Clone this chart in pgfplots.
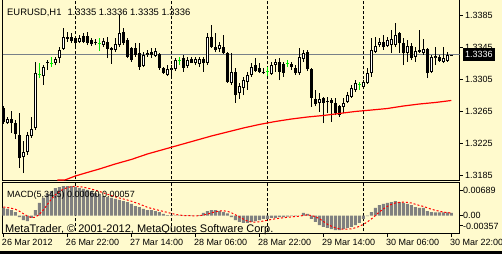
\documentclass[border=0pt]{standalone}
\usepackage{pgfplots}
\usepackage{pgfplotstable}
\pgfplotsset{compat=1.18}
\usepackage{fontspec}
\setmainfont{Liberation Sans}
\definecolor{bg}{RGB}{255,250,205}
\definecolor{lime}{RGB}{0,235,0}
\definecolor{histgray}{RGB}{128,128,128}
\definecolor{bidgray}{RGB}{120,128,136}
\newcommand{\lbl}{\fontsize{9bp}{10.8bp}\selectfont}
\pgfplotsset{
  wick/.style={draw=none, mark=none, error bars/.cd, y dir=plus, y explicit, error mark=none,
     error bar style={draw=#1, solid, line width=1bp}},
  body/.style={draw=none, mark=none, error bars/.cd, y dir=plus, y explicit, error mark=none,
     error bar style={draw=black, solid, line width=3bp}},
  inner/.style={draw=none, mark=none, error bars/.cd, y dir=plus, y explicit, error mark=none,
     error bar style={draw=white, solid, line width=1bp, shorten <=1bp, shorten >=1bp}},
}

\pgfplotstableread{
i o h l c
1 1.32508 1.32583 1.32496 1.32558
5 1.32085 1.32284 1.31885 1.32147
6 1.32147 1.32396 1.32110 1.32359
7 1.32346 1.32583 1.32322 1.32434
8 1.32446 1.33269 1.32421 1.33131
10 1.33094 1.33231 1.32982 1.33206
13 1.33256 1.33331 1.33231 1.33306
14 1.33318 1.33455 1.33256 1.33418
15 1.33431 1.33692 1.33418 1.33580
19 1.33518 1.33605 1.33505 1.33568
25 1.33480 1.33568 1.33455 1.33530
28 1.33418 1.33568 1.33393 1.33493
29 1.33480 1.33854 1.33455 1.33630
35 1.33219 1.33393 1.33206 1.33356
36 1.33356 1.33418 1.33331 1.33381
38 1.33343 1.33443 1.33331 1.33406
41 1.33107 1.33231 1.33094 1.33181
42 1.33169 1.33231 1.33082 1.33194
43 1.33181 1.33318 1.33156 1.33293
46 1.33219 1.33331 1.33194 1.33293
48 1.33256 1.33331 1.33231 1.33306
49 1.33244 1.33331 1.33206 1.33306
51 1.33256 1.33630 1.33231 1.33580
54 1.33431 1.33518 1.33393 1.33480
57 1.33007 1.33381 1.32982 1.33144
59 1.32882 1.33007 1.32808 1.32969
60 1.32945 1.33082 1.32857 1.33044
61 1.33019 1.33144 1.32920 1.33107
62 1.33107 1.33256 1.33082 1.33206
67 1.33119 1.33269 1.33107 1.33231
68 1.33231 1.33306 1.33144 1.33269
74 1.33131 1.33443 1.33107 1.33331
75 1.33306 1.33418 1.33269 1.33381
79 1.32758 1.32882 1.32646 1.32808
85 1.32708 1.32820 1.32633 1.32758
86 1.32770 1.32895 1.32758 1.32857
87 1.32832 1.32982 1.32820 1.32945
88 1.32920 1.33044 1.32895 1.33007
90 1.32957 1.33044 1.32957 1.33019
91 1.33007 1.33194 1.32994 1.33131
92 1.33131 1.33568 1.33082 1.33418
93 1.33393 1.33580 1.33381 1.33468
94 1.33480 1.33568 1.33455 1.33518
96 1.33468 1.33580 1.33455 1.33543
97 1.33480 1.33667 1.33381 1.33555
98 1.33480 1.33754 1.33455 1.33605
101 1.33381 1.33543 1.33269 1.33468
103 1.33331 1.33455 1.33269 1.33406
105 1.33381 1.33555 1.33356 1.33431
107 1.33144 1.33356 1.33131 1.33331
108 1.33318 1.33455 1.33231 1.33343
110 1.33269 1.33455 1.33256 1.33318
111 1.33281 1.33393 1.33269 1.33356
}\bull

\pgfplotstableread{
i o h l c
112 1.33350 1.33360 1.33350 1.33360
}\last

\pgfplotstableread{
i o h l c
0 1.32695 1.32720 1.32496 1.32521
2 1.32558 1.32658 1.32384 1.32508
3 1.32508 1.32546 1.32309 1.32371
4 1.32359 1.32633 1.31948 1.32072
11 1.33269 1.33293 1.33169 1.33256
16 1.33580 1.33642 1.33518 1.33555
17 1.33580 1.33630 1.33505 1.33530
18 1.33568 1.33592 1.33468 1.33505
20 1.33592 1.33630 1.33505 1.33518
21 1.33592 1.33642 1.33480 1.33505
22 1.33543 1.33568 1.33468 1.33493
23 1.33518 1.33555 1.33480 1.33505
26 1.33518 1.33580 1.33318 1.33431
27 1.33443 1.33455 1.33244 1.33418
30 1.33642 1.33692 1.33480 1.33505
31 1.33543 1.33568 1.33318 1.33331
32 1.33443 1.33455 1.33269 1.33293
33 1.33443 1.33505 1.33331 1.33356
34 1.33381 1.33505 1.33169 1.33206
37 1.33393 1.33443 1.33318 1.33356
39 1.33368 1.33381 1.33169 1.33194
40 1.33194 1.33206 1.33119 1.33131
45 1.33318 1.33356 1.33144 1.33194
47 1.33306 1.33331 1.33256 1.33256
50 1.33306 1.33331 1.33144 1.33256
52 1.33580 1.33730 1.33443 1.33455
53 1.33455 1.33630 1.33393 1.33418
55 1.33455 1.33605 1.33368 1.33381
56 1.33381 1.33393 1.33007 1.33019
58 1.33144 1.33194 1.32758 1.32857
63 1.33231 1.33318 1.33144 1.33156
64 1.33194 1.33256 1.33131 1.33144
65 1.33144 1.33194 1.33119 1.33131
69 1.33269 1.33318 1.33044 1.33144
70 1.33244 1.33269 1.33082 1.33131
72 1.33244 1.33269 1.33169 1.33206
73 1.33194 1.33231 1.33107 1.33131
76 1.33393 1.33418 1.33156 1.33181
77 1.33181 1.33194 1.32708 1.32820
78 1.32808 1.32920 1.32720 1.32745
80 1.32820 1.32832 1.32508 1.32758
81 1.32783 1.32832 1.32633 1.32770
82 1.32795 1.32820 1.32521 1.32758
83 1.32758 1.32820 1.32608 1.32633
84 1.32720 1.32733 1.32583 1.32608
95 1.33518 1.33605 1.33418 1.33455
99 1.33630 1.33642 1.33381 1.33505
100 1.33505 1.33568 1.33231 1.33381
102 1.33468 1.33505 1.33293 1.33318
104 1.33418 1.33667 1.33381 1.33393
106 1.33431 1.33443 1.33069 1.33131
109 1.33331 1.33356 1.33269 1.33281
}\bear

\pgfplotstableread{
i o h l c
9 1.33107 1.33256 1.33069 1.33107
12 1.33256 1.33331 1.33206 1.33256
24 1.33505 1.33568 1.33406 1.33505
44 1.33293 1.33331 1.33231 1.33293
66 1.33144 1.33206 1.33094 1.33144
71 1.33244 1.33293 1.33206 1.33244
89 1.32982 1.33019 1.32920 1.32982
}\doji

\pgfplotstableread{
i ma
13.5 1.31797
15.5 1.31800
18 1.31848
21 1.31892
24 1.31935
28 1.31998
32 1.32054
36 1.32122
40 1.32178
44 1.32234
48 1.32290
52 1.32346
56 1.32396
60 1.32446
64 1.32490
68 1.32527
72 1.32558
76 1.32583
80 1.32602
84 1.32627
88 1.32652
92 1.32670
96 1.32689
100 1.32720
104 1.32745
108 1.32764
112 1.32789
}\ma

\pgfplotstableread{
i m s
0 0.00166 0.00187
1 0.00144 0.00176
2 0.00122 0.00160
3 0.00078 0.00138
4 -0.00031 0.00096
5 -0.00096 0.00043
6 -0.00118 -0.00009
7 -0.00052 -0.00044
8 0.00122 -0.00035
9 0.00275 0.00026
10 0.00384 0.00122
11 0.00471 0.00240
12 0.00536 0.00358
13 0.00601 0.00453
14 0.00623 0.00523
15 0.00645 0.00575
16 0.00645 0.00610
17 0.00645 0.00632
18 0.00623 0.00636
19 0.00601 0.00632
20 0.00580 0.00619
21 0.00558 0.00601
22 0.00536 0.00580
23 0.00492 0.00553
24 0.00471 0.00527
25 0.00427 0.00497
26 0.00405 0.00466
27 0.00384 0.00436
28 0.00362 0.00410
29 0.00340 0.00384
30 0.00318 0.00362
31 0.00296 0.00340
32 0.00253 0.00314
33 0.00209 0.00283
34 0.00187 0.00253
35 0.00144 0.00218
36 0.00122 0.00183
37 0.00122 0.00157
38 0.00100 0.00135
39 0.00078 0.00113
40 0.00035 0.00091
41 0.00013 0.00070
42 0.00010 0.00047
43 0.00005 0.00028
44 -0.00005 0.00012
45 -0.00008 0.00003
46 -0.00008 -0.00001
47 -0.00005 -0.00004
48 0.00002 -0.00005
49 0.00010 -0.00002
50 0.00057 0.00011
51 0.00100 0.00033
52 0.00122 0.00058
53 0.00122 0.00082
54 0.00100 0.00100
55 0.00078 0.00104
56 0.00046 0.00094
57 -0.00031 0.00063
58 -0.00096 0.00019
59 -0.00139 -0.00028
60 -0.00161 -0.00076
61 -0.00161 -0.00118
62 -0.00139 -0.00139
63 -0.00118 -0.00144
64 -0.00096 -0.00135
65 -0.00074 -0.00118
66 -0.00074 -0.00100
67 -0.00052 -0.00083
68 -0.00052 -0.00070
69 -0.00031 -0.00057
70 -0.00031 -0.00048
71 -0.00020 -0.00037
72 -0.00009 -0.00029
73 -0.00009 -0.00020
74 0.00002 -0.00013
75 0.00057 0.00004
76 0.00035 0.00015
77 -0.00074 0.00002
78 -0.00139 -0.00024
79 -0.00205 -0.00065
80 -0.00248 -0.00126
81 -0.00270 -0.00187
82 -0.00292 -0.00231
83 -0.00314 -0.00266
84 -0.00314 -0.00288
85 -0.00292 -0.00296
86 -0.00270 -0.00296
87 -0.00248 -0.00288
88 -0.00205 -0.00266
89 -0.00161 -0.00235
90 -0.00074 -0.00192
91 -0.00009 -0.00139
92 0.00078 -0.00074
93 0.00166 0.00000
94 0.00231 0.00078
95 0.00253 0.00144
96 0.00275 0.00201
97 0.00296 0.00244
98 0.00318 0.00275
99 0.00296 0.00288
100 0.00275 0.00292
101 0.00253 0.00288
102 0.00231 0.00275
103 0.00187 0.00248
104 0.00166 0.00222
105 0.00166 0.00201
106 0.00100 0.00170
107 0.00078 0.00139
108 0.00068 0.00116
109 0.00068 0.00096
110 0.00068 0.00076
111 0.00068 0.00066
112 0.00060 0.00057
}\macd

\begin{document}
\begin{tikzpicture}
\useasboundingbox (0,0) rectangle (502bp,-254bp);
\fill[bg] (0,0) rectangle (502bp,-254bp);

\begin{axis}[
  at={(2.5bp,0.5bp)}, anchor=north west, scale only axis,
  width=457bp, height=181bp,
  xmin=-0.2, xmax=114.05, ymin=1.3179197, ymax=1.3404723,
  clip mode=individual,
  axis line style={line width=1bp},
  xtick=\empty,
  scaled y ticks=false,
  ytick={1.3185,1.3225,1.3265,1.3305,1.3345,1.3385},
  yticklabels={1.3185,1.3225,1.3265,1.3305,1.3345,1.3385},
  ytick pos=right, yticklabel pos=right,
  tick align=outside, major tick length=3bp,
  tick style={black, line width=1bp},
  yticklabel style={anchor=west, inner sep=0pt, font=\lbl, xshift=2.5bp},
]
\addplot[bidgray, line width=1bp] coordinates {(-0.2,1.3336) (114.05,1.3336)};
\addplot[black, line width=1bp, dash pattern=on 3bp off 2bp] coordinates {(18,1.30) (18,1.36)};
\addplot[black, line width=1bp, dash pattern=on 3bp off 2bp] coordinates {(42,1.30) (42,1.36)};
\addplot[black, line width=1bp, dash pattern=on 3bp off 2bp] coordinates {(66,1.30) (66,1.36)};
\addplot[black, line width=1bp, dash pattern=on 3bp off 2bp] coordinates {(90,1.30) (90,1.36)};
% wicks
\addplot[wick=black] table[x=i, y=l, y error plus expr=\thisrow{h}-\thisrow{l}] {\bull};
\addplot[wick=black] table[x=i, y=l, y error plus expr=\thisrow{h}-\thisrow{l}] {\bear};
\addplot[wick=black] table[x=i, y=l, y error plus expr=\thisrow{h}-\thisrow{l}] {\last};
\addplot[wick=lime] table[x=i, y=l, y error plus expr=\thisrow{h}-\thisrow{l}] {\doji};
% bodies
\addplot[body] table[x=i, y=c, y error plus expr=\thisrow{o}-\thisrow{c}] {\bear};
\addplot[body] table[x=i, y=o, y error plus expr=\thisrow{c}-\thisrow{o}] {\bull};
\addplot[body] table[x=i, y=o, y error plus expr=\thisrow{c}-\thisrow{o}] {\last};
\addplot[inner] table[x=i, y=o, y error plus expr=\thisrow{c}-\thisrow{o}] {\bull};
\addplot[only marks, mark=-, mark size=1.5bp, lime, mark options={solid, line width=1bp}]
  table[x=i, y=o] {\doji};
% moving average
\addplot[red, line width=1.2bp, mark=none] table[x=i, y=ma] {\ma};
\coordinate (bid) at (axis cs:114.05,1.3336);
\end{axis}

\begin{axis}[
  at={(2.5bp,-182.5bp)}, anchor=north west, scale only axis,
  width=457bp, height=51bp,
  xmin=-0.2, xmax=114.05, ymin=-0.003901, ymax=0.007213,
  clip mode=individual,
  axis line style={line width=1bp},
  scaled y ticks=false, scaled x ticks=false,
  xtick={0,16,32,48,64,80,96,112},
  xticklabels={26 Mar 2012,26 Mar 22:00,27 Mar 14:00,28 Mar 06:00,28 Mar 22:00,29 Mar 14:00,30 Mar 06:00,30 Mar 22:00},
  xtick pos=bottom,
  ytick={-0.002266,0,0.005579},
  yticklabels={-0.00357,0.00,0.00689},
  ytick pos=right, yticklabel pos=right,
  tick align=outside, major tick length=3bp,
  tick style={black, line width=1bp},
  yticklabel style={anchor=west, inner sep=0pt, font=\lbl, xshift=0.5bp},
  xticklabel style={anchor=base west, inner sep=0pt, font=\lbl, xshift=-1.5bp, yshift=-9bp},
]
\addplot[black, line width=1bp, dash pattern=on 3bp off 2bp] coordinates {(18,-0.01) (18,0.01)};
\addplot[black, line width=1bp, dash pattern=on 3bp off 2bp] coordinates {(42,-0.01) (42,0.01)};
\addplot[black, line width=1bp, dash pattern=on 3bp off 2bp] coordinates {(66,-0.01) (66,0.01)};
\addplot[black, line width=1bp, dash pattern=on 3bp off 2bp] coordinates {(90,-0.01) (90,0.01)};
\addplot[ybar, bar width=3bp, fill=histgray, draw=none] table[x=i, y=m] {\macd};
\addplot[red, line width=1bp, mark=none, dash pattern=on 2bp off 2bp] table[x=i, y=s] {\macd};
\end{axis}

\node[anchor=base west, inner sep=0pt, font=\fontsize{9.4bp}{11bp}\selectfont] at (7bp,-15bp) {EURUSD,H1\hspace{6bp}1.3335 1.3336 1.3335 1.3336};
\node[anchor=base west, inner sep=0pt, font=\lbl] at (7bp,-197.5bp) {MACD(5,34,5) 0.00060 0.00057};
\node[anchor=base west, inner sep=0pt, font=\fontsize{11bp}{13bp}\selectfont] at (5bp,-232.5bp) {MetaTrader, © 2001-2012, MetaQuotes Software Corp.};
\node[fill=black, text=white, anchor=west, inner xsep=2.5bp, inner ysep=0pt, minimum height=12.5bp, font=\lbl] at ([xshift=3bp]bid) {1.3336};
\fill[black] (0,-251bp) rectangle (502bp,-254bp);
\end{tikzpicture}
\end{document}
